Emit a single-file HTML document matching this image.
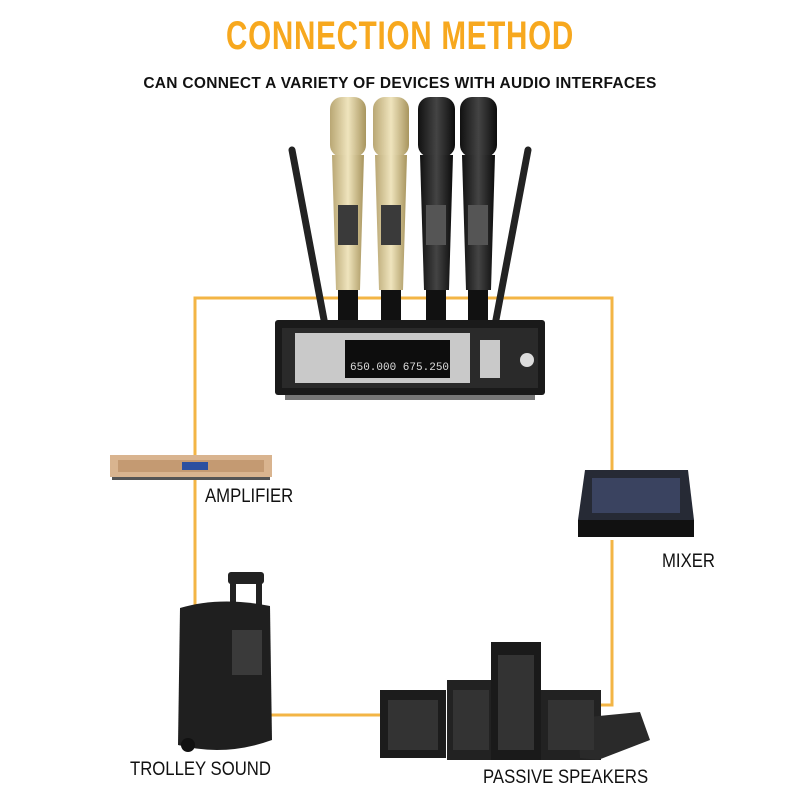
<!DOCTYPE html>
<html><head><meta charset="utf-8"><style>
body{margin:0;width:800px;height:800px;background:#fff;position:relative;overflow:hidden;font-family:"Liberation Sans",sans-serif}
.a{position:absolute}
.t{left:0;width:800px;text-align:center;top:14px;font-size:40px;font-weight:bold;color:#f7a81e;letter-spacing:1px;transform:scaleX(0.74)}
.s{left:0;width:840px;text-align:center;top:75px;font-size:15.5px;font-weight:bold;color:#111;letter-spacing:0.3px}
.lab{font-size:19px;color:#111;transform:scaleX(0.88);transform-origin:left}
</style></head><body>
<div class="a t">CONNECTION METHOD</div>
<div class="a s" style="left:-20px">CAN CONNECT A VARIETY OF DEVICES WITH AUDIO INTERFACES</div>
<svg class="a" style="left:0;top:0" width="800" height="800">
<g fill="none" stroke="#f3b545" stroke-width="3">
<polyline points="195,470 195,298 612,298 612,480"/>
<polyline points="195,480 195,715 380,715"/>
<polyline points="612,540 612,705 598,705"/>
</g>
<g stroke="#222" stroke-width="7" stroke-linecap="round">
<line x1="292" y1="150" x2="325" y2="325"/>
<line x1="528" y1="150" x2="495" y2="325"/>
</g>
<defs>
<linearGradient id="g" x1="0" x2="1"><stop offset="0" stop-color="#b9a774"/><stop offset=".5" stop-color="#efe4bd"/><stop offset="1" stop-color="#a8955e"/></linearGradient>
<linearGradient id="b" x1="0" x2="1"><stop offset="0" stop-color="#111"/><stop offset=".5" stop-color="#444"/><stop offset="1" stop-color="#0c0c0c"/></linearGradient>
</defs>
<g>
<rect x="330" y="97" width="36" height="60" rx="12" fill="url(#g)"/>
<path d="M332 155 L364 155 L360 290 L336 290Z" fill="url(#g)"/>
<rect x="338" y="205" width="20" height="40" fill="#3a3a3a"/>
<rect x="338" y="290" width="20" height="40" fill="#111"/>
<rect x="373" y="97" width="36" height="60" rx="12" fill="url(#g)"/>
<path d="M375 155 L407 155 L403 290 L379 290Z" fill="url(#g)"/>
<rect x="381" y="205" width="20" height="40" fill="#3a3a3a"/>
<rect x="381" y="290" width="20" height="40" fill="#111"/>
<rect x="418" y="97" width="37" height="60" rx="12" fill="url(#b)"/>
<path d="M420 155 L453 155 L449 290 L424 290Z" fill="url(#b)"/>
<rect x="426" y="205" width="20" height="40" fill="#555"/>
<rect x="426" y="290" width="20" height="40" fill="#111"/>
<rect x="460" y="97" width="37" height="60" rx="12" fill="url(#b)"/>
<path d="M462 155 L495 155 L491 290 L466 290Z" fill="url(#b)"/>
<rect x="468" y="205" width="20" height="40" fill="#555"/>
<rect x="468" y="290" width="20" height="40" fill="#111"/>
</g>
<rect x="275" y="320" width="270" height="75" rx="3" fill="#1a1a1a"/>
<rect x="282" y="328" width="256" height="60" fill="#2a2a2a"/>
<rect x="295" y="333" width="175" height="50" fill="#c9c9c9"/>
<rect x="345" y="340" width="105" height="38" fill="#0d0d0d"/>
<text x="350" y="370" font-size="11" fill="#ddd" font-family="Liberation Mono">650.000 675.250</text>
<rect x="480" y="340" width="20" height="38" fill="#c9c9c9"/>
<circle cx="527" cy="360" r="7" fill="#ddd"/>
<rect x="285" y="395" width="250" height="5" fill="#777"/>
<rect x="110" y="455" width="162" height="22" fill="#d9b48f"/>
<rect x="118" y="460" width="146" height="12" fill="#c49a72"/>
<rect x="182" y="462" width="26" height="8" fill="#2a4fa0"/>
<rect x="112" y="477" width="158" height="3" fill="#555"/>
<path d="M585 470 L688 470 L694 520 L578 520Z" fill="#262a35"/>
<rect x="578" y="520" width="116" height="17" fill="#111"/>
<rect x="592" y="478" width="88" height="35" fill="#3a4360"/>
<rect x="228" y="572" width="36" height="12" rx="3" fill="#222"/>
<rect x="230" y="578" width="6" height="30" fill="#222"/>
<rect x="256" y="578" width="6" height="30" fill="#222"/>
<path d="M180 608 Q220 596 270 606 L272 740 Q225 757 178 745Z" fill="#1f1f1f"/>
<rect x="232" y="630" width="30" height="45" fill="#3a3a3a"/>
<circle cx="188" cy="745" r="7" fill="#111"/>
<rect x="380" y="690" width="66" height="68" fill="#1c1c1c"/>
<rect x="447" y="680" width="48" height="80" fill="#222"/>
<rect x="491" y="642" width="50" height="118" fill="#1a1a1a"/>
<rect x="541" y="690" width="60" height="70" fill="#222"/>
<path d="M578 718 L640 712 L650 740 L598 760 L580 758Z" fill="#2a2a2a"/>
<g fill="#333"><rect x="388" y="700" width="50" height="50"/><rect x="453" y="690" width="36" height="60"/><rect x="498" y="655" width="36" height="95"/><rect x="548" y="700" width="46" height="50"/></g>
</svg>
<div class="a lab" style="left:205px;top:486px">AMPLIFIER</div>
<div class="a lab" style="left:662px;top:551px">MIXER</div>
<div class="a lab" style="left:130px;top:759px">TROLLEY SOUND</div>
<div class="a lab" style="left:483px;top:767px">PASSIVE SPEAKERS</div>
</body></html>
